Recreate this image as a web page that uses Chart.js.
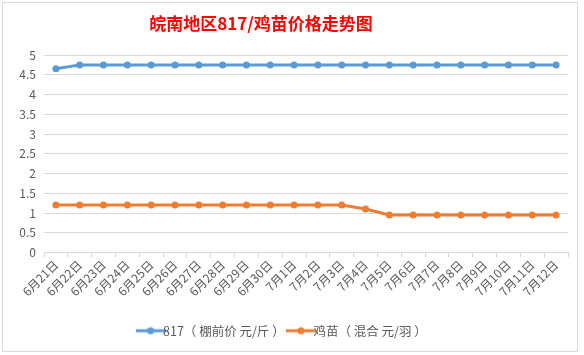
<!DOCTYPE html>
<html>
<head>
<meta charset="utf-8">
<script src="https://cdn.jsdelivr.net/npm/chart.js@4.4.1/dist/chart.umd.min.js"></script>
<style>
html,body{margin:0;padding:0;background:#fff;width:584px;height:355px;overflow:hidden;}
#box{position:absolute;left:2px;top:2px;width:576px;height:350px;border:1px solid #d9d9d9;box-sizing:border-box;background:#fff;}
#c{display:block;}
</style>
</head>
<body>
<div id="box"><canvas id="c" width="574" height="348"></canvas></div>
<script>
const chartTitle = '皖南地区817/鸡苗价格走势图';
const categories = ['6月21日','6月22日','6月23日','6月24日','6月25日','6月26日','6月27日','6月28日','6月29日','6月30日','7月1日','7月2日','7月3日','7月4日','7月5日','7月6日','7月7日','7月8日','7月9日','7月10日','7月11日','7月12日'];
const series817 = [4.65,4.75,4.75,4.75,4.75,4.75,4.75,4.75,4.75,4.75,4.75,4.75,4.75,4.75,4.75,4.75,4.75,4.75,4.75,4.75,4.75,4.75];
const seriesChick = [1.2,1.2,1.2,1.2,1.2,1.2,1.2,1.2,1.2,1.2,1.2,1.2,1.2,1.1,0.95,0.95,0.95,0.95,0.95,0.95,0.95,0.95];
const seriesNames = ['817（ 棚前价 元/斤 ）','鸡苗（ 混合 元/羽 ）'];
const yTicks = [0,0.5,1,1.5,2,2.5,3,3.5,4,4.5,5];

const colors = ['#5B9BD5','#ED7D31'];
function legendIcon(color){
  const cv = document.createElement('canvas');
  cv.width = 30; cv.height = 10;
  const x = cv.getContext('2d');
  x.strokeStyle = color; x.lineWidth = 3;
  x.beginPath(); x.moveTo(0,5); x.lineTo(30,5); x.stroke();
  x.fillStyle = color;
  x.beginPath(); x.arc(15,5,3.5,0,Math.PI*2); x.fill();
  return cv;
}
const icons = colors.map(legendIcon);

const titlePlugin = {
  id:'customTitle',
  afterDraw(chart){
    const ctx = chart.ctx;
    ctx.save();
    ctx.font = 'bold 17px "Noto Sans CJK SC", sans-serif';
    ctx.fillStyle = '#FF0000';
    ctx.textAlign = 'center';
    ctx.textBaseline = 'middle';
    ctx.fillText(chartTitle, 258, 21);
    ctx.restore();
  }
};

new Chart(document.getElementById('c'), {
  type:'line',
  data:{
    labels:categories,
    datasets:[
      {label:seriesNames[0],data:series817,borderColor:colors[0],backgroundColor:colors[0],borderWidth:3,pointRadius:3.5,pointBackgroundColor:colors[0],pointBorderWidth:0,tension:0},
      {label:seriesNames[1],data:seriesChick,borderColor:colors[1],backgroundColor:colors[1],borderWidth:3,pointRadius:3.5,pointBackgroundColor:colors[1],pointBorderWidth:0,tension:0}
    ]
  },
  options:{
    responsive:false,
    animation:false,
    devicePixelRatio:1,
    layout:{padding:{top:52,left:0,right:9,bottom:4}},
    plugins:{
      title:{display:false},
      tooltip:{enabled:false},
      legend:{
        position:'bottom',
        labels:{
          color:'#595959',
          font:{size:12.5,family:'"Noto Sans CJK SC", sans-serif'},
          usePointStyle:true,
          boxWidth:30,
          padding:10,
          generateLabels(chart){
            return chart.data.datasets.map((d,i)=>({text:d.label,pointStyle:icons[i],fillStyle:colors[i],strokeStyle:colors[i],lineWidth:0,fontColor:'#595959',datasetIndex:i,hidden:false}));
          }
        }
      }
    },
    scales:{
      x:{
        offset:true,
        grid:{display:true,drawOnChartArea:false,color:'#d9d9d9',tickLength:5,offset:true},
        border:{display:true,color:'#d9d9d9'},
        ticks:{color:'#595959',font:{size:12,family:'"Noto Sans CJK SC", sans-serif'},maxRotation:45,minRotation:45,autoSkip:false,padding:0},
        afterFit(s){s.height=62;}
      },
      y:{
        min:0,max:5,
        afterBuildTicks(s){s.ticks = yTicks.map(v=>({value:v}));},
        grid:{color:'#d9d9d9',drawTicks:false},
        border:{display:false},
        ticks:{color:'#595959',font:{size:12,family:'"Noto Sans CJK SC", sans-serif'},padding:8,callback:v=>String(v)},
        afterFit(s){s.width=41;}
      }
    }
  },
  plugins:[titlePlugin]
});
</script>
</body>
</html>
